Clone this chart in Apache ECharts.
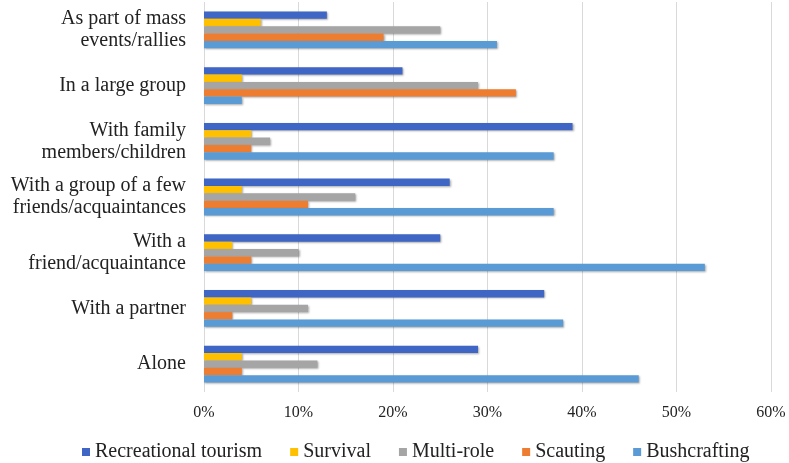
<!DOCTYPE html>
<html><head><meta charset="utf-8">
<script src="https://cdn.jsdelivr.net/npm/echarts@6/dist/echarts.min.js"></script>
<style>html,body{margin:0;padding:0;background:#fff}#c{width:789px;height:463px}</style>
</head><body><div id="c"></div>
<script>
// categories listed bottom to top
const categories = ['Alone', 'With a partner', 'With a\nfriend/acquaintance', 'With a group of a few\nfriends/acquaintances', 'With family\nmembers/children', 'In a large group', 'As part of mass\nevents/rallies'];
const recreational = [29, 36, 25, 26, 39, 21, 13];
const survival = [4, 5, 3, 4, 5, 4, 6];
const multiRole = [12, 11, 10, 16, 7, 29, 25];
const scauting = [4, 3, 5, 11, 5, 33, 19];
const bushcrafting = [46, 38, 53, 37, 37, 4, 31];
const xTicks = [0, 10, 20, 30, 40, 50, 60];

const font = 'Liberation Serif';
const chart = echarts.init(document.getElementById('c'));
const shadow = {shadowBlur: 2, shadowOffsetX: 1, shadowOffsetY: 1, shadowColor: 'rgba(0,0,0,0.35)'};
function s(name, data, color) {
  return {name, type: 'bar', data, barGap: '0%', barCategoryGap: '34%',
    itemStyle: Object.assign({color}, shadow)};
}
chart.setOption({
  animation: false,
  grid: {left: 204, right: 18, top: 2, bottom: 71, containLabel: false},
  legend: {
    top: 437, left: 77, icon: 'rect', itemWidth: 8, itemHeight: 8, itemGap: 28,
    data: ['Recreational tourism', 'Survival', 'Multi-role', 'Scauting', 'Bushcrafting'],
    textStyle: {fontFamily: font, fontSize: 20, color: '#222'}
  },
  xAxis: {
    type: 'value', min: xTicks[0], max: xTicks[xTicks.length - 1], interval: 10,
    axisLine: {show: false}, axisTick: {show: false},
    splitLine: {lineStyle: {color: '#d9d9d9', width: 1}},
    axisLabel: {formatter: v => v + '%', fontFamily: font, fontSize: 16, color: '#222', margin: 13}
  },
  yAxis: {
    type: 'category', data: categories,
    axisLine: {show: false}, axisTick: {show: false},
    axisLabel: {fontFamily: font, fontSize: 20, color: '#222', lineHeight: 22, margin: 18, align: 'right'}
  },
  series: [
    s('Recreational tourism', recreational, '#3F66C4'),
    s('Survival', survival, '#FFC000'),
    s('Multi-role', multiRole, '#A5A5A5'),
    s('Scauting', scauting, '#ED7D31'),
    s('Bushcrafting', bushcrafting, '#5B9BD5')
  ]
});
</script></body></html>
